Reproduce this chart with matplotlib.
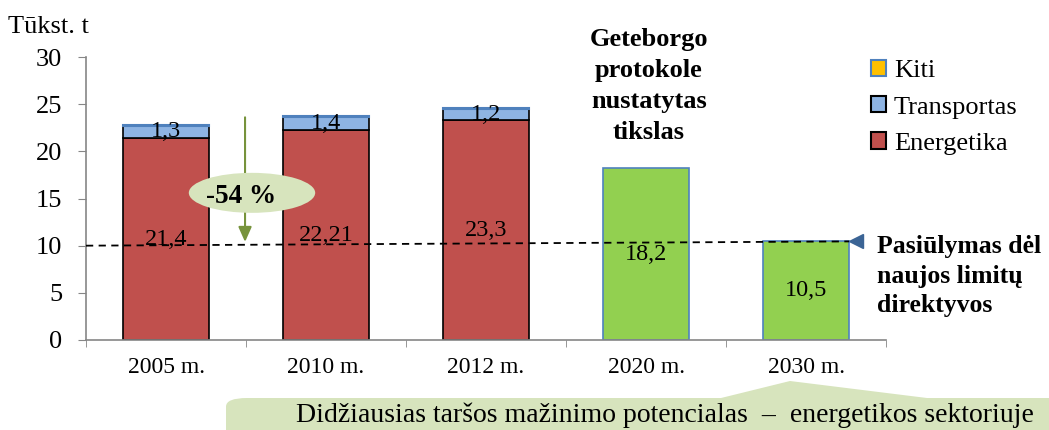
import matplotlib
matplotlib.use("Agg")
import matplotlib.pyplot as plt
from matplotlib.patches import Ellipse, FancyBboxPatch, Polygon, Patch
import numpy as np

plt.rcParams['font.family'] = ['Liberation Serif', 'DejaVu Serif']

categories = ["2005 m.", "2010 m.", "2012 m.", "2020 m.", "2030 m."]
energetika = [21.4, 22.21, 23.3, 0, 0]
transportas = [1.3, 1.4, 1.2, 0, 0]
kiti = [0.1, 0.1, 0.1, 0, 0]
tikslas = [0, 0, 0, 18.2, 10.5]
energetika_lbl = ["21,4", "22,21", "23,3", "", ""]
transportas_lbl = ["1,3", "1,4", "1,2", "", ""]
tikslas_lbl = ["", "", "", "18,2", "10,5"]
yticks = [0, 5, 10, 15, 20, 25, 30]
limit_line = [10, 10.45]

W, H = 1049, 430
fig = plt.figure(figsize=(W / 100, H / 100), dpi=100)
ax = fig.add_axes([86 / W, (H - 340) / H, 800 / W, (340 - 57) / H])

x = np.arange(len(categories))
bw = 0.54
c_en, c_tr, c_ki, c_gr = "#C0504D", "#8EB4E3", "#FFC000", "#92D050"
e = np.array(energetika); t = np.array(transportas); k = np.array(kiti)
ax.bar(x, e, bw, color=c_en, edgecolor="black", linewidth=1.2, zorder=2)
ax.bar(x, t, bw, bottom=e, color=c_tr, edgecolor="black", linewidth=1.2, zorder=2)
mask = k > 0
ax.bar(x[mask], k[mask], bw, bottom=(e + t)[mask], color="#4F81BD", edgecolor="#4F81BD", linewidth=1.5, zorder=3)
gmask = np.array(tikslas) > 0
ax.bar(x[gmask], np.array(tikslas)[gmask], bw, color=c_gr, edgecolor="#4F81BD", linewidth=1.2, zorder=2)

fs_lbl = 17.5
for i in range(len(categories)):
    if energetika_lbl[i]:
        ax.text(x[i], e[i] / 2, energetika_lbl[i], ha="center", va="center", fontsize=fs_lbl, zorder=5)
    if transportas_lbl[i]:
        ax.text(x[i], e[i] + t[i] / 2, transportas_lbl[i], ha="center", va="center", fontsize=fs_lbl, zorder=5)
    if tikslas_lbl[i]:
        ax.text(x[i], tikslas[i] / 2, tikslas_lbl[i], ha="center", va="center", fontsize=fs_lbl, zorder=5)

ax.set_xlim(-0.5, len(categories) - 0.5)
ax.set_ylim(0, 30)
ax.set_yticks(yticks)
ax.set_yticklabels([str(v) for v in yticks], fontsize=19)
ax.set_xticks(x)
ax.set_xticklabels(categories, fontsize=17)
ax.set_xticks(np.arange(-0.5, len(categories) + 0.5, 1), minor=True)
ax.tick_params(axis="x", which="major", length=0, pad=12)
ax.tick_params(axis="x", which="minor", length=5, color="#868686", direction="out")
ax.tick_params(axis="y", length=6, color="#868686", direction="out", pad=11)
for s in ["top", "right"]:
    ax.spines[s].set_visible(False)
for s in ["left", "bottom"]:
    ax.spines[s].set_color("#868686")
    ax.spines[s].set_linewidth(1.2)

# dashed limit line
x_end = x[-1] + bw / 2
ax.plot([-0.5, x_end], limit_line, ls=(0, (4, 3)), color="black", lw=1.3, zorder=4, clip_on=False)
ax.plot([x_end + 0.04], [limit_line[1]], marker="<", color="#3B6495", markersize=10, zorder=5, clip_on=False)

# green arrow
ax.annotate("", xy=(0.494, limit_line[0] + 0.1), xytext=(0.494, 23.9),
            arrowprops=dict(arrowstyle="-|>,head_length=0.9,head_width=0.4", color="#77933C", lw=1.5), zorder=3)
ell = Ellipse((0.5375, 15.6), 0.79, 4.24, facecolor="#D7E4BD", edgecolor="none", zorder=4)
ax.add_patch(ell)
ax.text(0.47, 15.2, "-54 %", ha="center", va="center", fontsize=19.5, fontweight="bold", zorder=5)

fig.text(8 / W, 1 - 27 / H, "Tūkst. t", fontsize=19, ha="left", va="center")

# annotations
fig.text(649 / W, 1 - 86 / H, "Geteborgo\nprotokole\nnustatytas\ntikslas", fontsize=19, fontweight="bold",
         ha="center", va="center", linespacing=1.45)
fig.text(877 / W, 1 - 276 / H, "Pasiūlymas dėl\nnaujos limitų\ndirektyvos", fontsize=18.5, fontweight="bold",
         ha="left", va="center", linespacing=1.35)

# legend
handles = [Patch(facecolor=c_ki, edgecolor="#4F81BD", lw=1.5),
           Patch(facecolor=c_tr, edgecolor="black", lw=1.5),
           Patch(facecolor=c_en, edgecolor="black", lw=1.5)]
fig.legend(handles, ["Kiti", "Transportas", "Energetika"], loc="upper left",
           bbox_to_anchor=(871 / W, 1 - 60 / H), frameon=False, fontsize=19,
           handlelength=0.57, handleheight=0.57, handletextpad=0.3, labelspacing=0.52,
           borderaxespad=0, borderpad=0)

# bottom callout
fc = "#D7E4BD"
box = FancyBboxPatch((226 / W, -10 / H), (1100 - 226) / W, (H - 398 + 10) / H,
                     boxstyle="round,pad=0,rounding_size=0.02", transform=fig.transFigure,
                     facecolor=fc, edgecolor="none", zorder=0)
fig.patches.append(box)
tri = Polygon([(717 / W, 1 - 399 / H), (790 / W, 1 - 381 / H), (935 / W, 1 - 399 / H)],
              closed=True, transform=fig.transFigure, facecolor=fc, edgecolor="none")
fig.patches.append(tri)
fig.text(665 / W, 1 - 415 / H, "Didžiausias taršos mažinimo potencialas  –  energetikos sektoriuje",
         fontsize=20, ha="center", va="center")

fig.savefig("out.png", dpi=100)
